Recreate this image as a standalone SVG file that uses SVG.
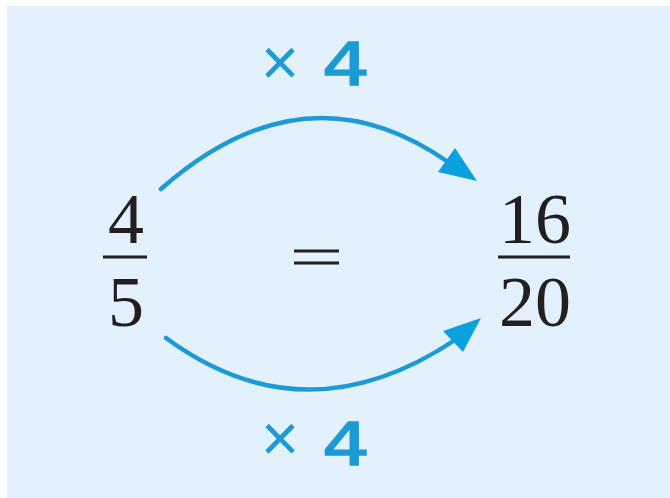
<svg xmlns="http://www.w3.org/2000/svg" width="670" height="498" viewBox="0 0 670 498">
<style>
.num{font-family:"Liberation Serif","Times New Roman",serif;font-size:72px;fill:#231f20;text-anchor:middle}
.bar{stroke:#231f20;stroke-width:3}
.times{font-family:"Liberation Sans",Arial,sans-serif;font-size:66px;fill:#1c9ad6;text-anchor:middle}
.four{font-family:"DejaVu Sans","Liberation Sans",sans-serif;font-size:58px;fill:#1c9ad6;stroke:#1c9ad6;stroke-width:1.5}
.arc{fill:none;stroke:#1c9ad6;stroke-width:4.5;stroke-linecap:round}
.head{fill:#0ba0e0}
</style>
<rect x="0" y="0" width="670" height="498" fill="#ffffff"/>
<rect x="7" y="6" width="663" height="492" fill="#e2f1fb"/>
<g id="frac-left">
<text class="num" x="126" y="243">4</text>
<line class="bar" x1="103" y1="257" x2="147" y2="257"/>
<text class="num" x="126" y="326">5</text>
</g>
<g id="equals">
<line class="bar" x1="294" y1="251" x2="339" y2="251"/>
<line class="bar" x1="294" y1="263" x2="339" y2="263"/>
</g>
<g id="frac-right">
<text class="num" x="535" y="243">16</text>
<line class="bar" x1="498" y1="257" x2="570" y2="257"/>
<text class="num" x="535" y="326">20</text>
</g>
<g id="label-top">
<text class="times" x="280" y="85">×</text>
<text class="four" x="322" y="85" textLength="48" lengthAdjust="spacingAndGlyphs">4</text>
</g>
<g id="label-bottom">
<text class="times" x="280" y="461">×</text>
<text class="four" x="322" y="465" textLength="48" lengthAdjust="spacingAndGlyphs">4</text>
</g>
<g id="connectors">
<path class="arc" d="M161,189 Q305,62 448,162"/>
<polygon class="head" points="477,181 438,172 455,148"/>
<path class="arc" d="M166,338 Q305,440 455,340"/>
<polygon class="head" points="481,318 443,331 463,352"/>
</g>
</svg>
